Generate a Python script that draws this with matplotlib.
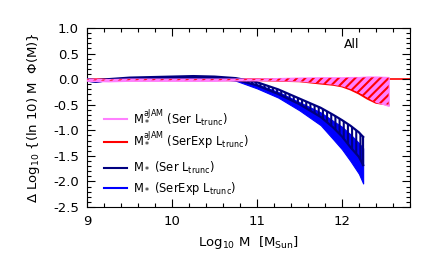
import numpy as np
import matplotlib
matplotlib.use("Agg")
import matplotlib.pyplot as plt
from matplotlib.lines import Line2D
from matplotlib.ticker import MultipleLocator, FormatStrFormatter

plt.rcParams['font.family'] = ['DejaVu Sans']
plt.rcParams['mathtext.fontset'] = 'dejavusans'
plt.rcParams['mathtext.default'] = 'regular'
plt.rcParams['hatch.linewidth'] = 1.5

# aJAM-based estimates (Ser and SerExp light profiles)
mass_aj = [9.0, 9.25, 9.5, 9.75, 10.0, 10.25, 10.5, 10.75, 11.0, 11.25, 11.5,
           11.75, 11.9, 12.0, 12.1, 12.2, 12.3, 12.4, 12.55]
ser_aj_hi = [0.01, 0.0, 0.01, 0.01, 0.01, 0.01, 0.01, 0.01, 0.01, 0.02, 0.03,
             0.035, 0.035, 0.035, 0.04, 0.04, 0.05, 0.05, 0.04]
ser_aj_lo = [-0.03, -0.04, -0.03, -0.03, -0.03, -0.03, -0.03, -0.02, -0.02, -0.02, -0.03,
             -0.06, -0.09, -0.12, -0.17, -0.24, -0.34, -0.44, -0.52]
serexp_aj_hi = [0.0, -0.01, 0.0, 0.0, 0.0, 0.0, 0.0, 0.0, 0.0, 0.01, 0.02,
                0.025, 0.025, 0.025, 0.03, 0.03, 0.035, 0.035, 0.03]
serexp_aj_lo = [-0.02, -0.03, -0.02, -0.02, -0.02, -0.02, -0.02, -0.02, -0.02, -0.03, -0.04,
                -0.085, -0.11, -0.14, -0.2, -0.28, -0.38, -0.46, -0.5]

# dynamical M* estimates
mass_st = [9.0, 9.1, 9.25, 9.5, 9.75, 10.0, 10.25, 10.5, 10.75, 11.0, 11.25,
           11.5, 11.75, 11.9, 12.0, 12.1, 12.2, 12.25]
ser_hi = [0.0, -0.02, 0.0, 0.03, 0.04, 0.05, 0.06, 0.05, 0.02, -0.06, -0.2,
          -0.38, -0.56, -0.70, -0.80, -0.91, -1.04, -1.13]
ser_lo = [-0.03, -0.05, -0.02, 0.0, 0.01, 0.02, 0.03, 0.02, -0.01, -0.12, -0.29,
          -0.49, -0.74, -0.95, -1.12, -1.33, -1.52, -1.68]
serexp_hi = [0.0, -0.02, 0.0, 0.02, 0.03, 0.04, 0.05, 0.04, 0.0, -0.10, -0.25,
             -0.45, -0.65, -0.82, -0.93, -1.08, -1.25, -1.35]
serexp_lo = [-0.03, -0.05, -0.02, -0.01, 0.0, 0.01, 0.02, 0.01, -0.03, -0.18, -0.36,
             -0.61, -0.90, -1.18, -1.37, -1.60, -1.85, -2.04]

pink = '#ff80ff'
red = '#ff0000'
navy = '#000080'
blue = '#0000ff'

fig = plt.figure(figsize=(4.36, 2.62), dpi=100)
ax = fig.add_axes([0.2, 0.21, 0.74, 0.683])

ax.axhline(0, color=red, lw=1.2, zorder=1)

# blue M* (SerExp) solid band
ax.fill_between(mass_st, serexp_lo, serexp_hi, color=blue, lw=0.8, zorder=2)
# navy M* (Ser) hatched band
ax.fill_between(mass_st, ser_lo, ser_hi, facecolor='none', edgecolor=navy,
                hatch='||||', lw=0, zorder=3)
ax.plot(mass_st, ser_hi, color=navy, lw=1.6, zorder=3)
ax.plot(mass_st, ser_lo, color=navy, lw=1.6, zorder=3)
ax.plot([mass_st[-1], mass_st[-1]], [ser_lo[-1], ser_hi[-1]], color=navy, lw=1.6, zorder=3)

# aJAM: pink band with red hatching
ax.plot(mass_aj, serexp_aj_lo, color=red, lw=1.5, zorder=4)
ax.fill_between(mass_aj, ser_aj_lo, ser_aj_hi, color=pink, lw=1.0, zorder=4)
ax.fill_between(mass_aj, serexp_aj_lo, serexp_aj_hi, facecolor='none', edgecolor=red,
                hatch='////', lw=0, zorder=5)

ax.set_xlim(9, 12.8)
ax.set_ylim(-2.5, 1.0)
ax.xaxis.set_major_locator(MultipleLocator(1))
ax.xaxis.set_minor_locator(MultipleLocator(0.2))
ax.yaxis.set_major_locator(MultipleLocator(0.5))
ax.yaxis.set_minor_locator(MultipleLocator(0.1))
ax.yaxis.set_major_formatter(FormatStrFormatter('%.1f'))
ax.tick_params(which='both', direction='in', top=True, right=True, labelsize=9.5, width=0.8)
ax.tick_params(which='major', length=6, pad=6)
ax.tick_params(which='minor', length=3)

ax.set_xlabel(r'Log$_{10}$ M  [M$_{Sun}$]', fontsize=9.5)
ax.set_ylabel(r'$\Delta$ Log$_{10}$ {(ln 10) M  $\Phi$(M)}', fontsize=9.5, labelpad=8)
ax.text(12.02, 0.6, 'All', fontsize=9)

h1 = [Line2D([], [], color=pink, lw=1.5), Line2D([], [], color=red, lw=1.5)]
l1 = [r'M$_*^{aJAM}$ (Ser L$_{trunc}$)', r'M$_*^{aJAM}$ (SerExp L$_{trunc}$)']
leg1 = ax.legend(h1, l1, loc='center left', bbox_to_anchor=(0.02, 0.43), frameon=False,
                 fontsize=8.3, handlelength=2.0, labelspacing=0.3, handletextpad=0.5)
ax.add_artist(leg1)
h2 = [Line2D([], [], color=navy, lw=1.5), Line2D([], [], color=blue, lw=1.5)]
l2 = [r'M$_*$ (Ser L$_{trunc}$)', r'M$_*$ (SerExp L$_{trunc}$)']
ax.legend(h2, l2, loc='center left', bbox_to_anchor=(0.02, 0.16), frameon=False,
          fontsize=8.3, handlelength=2.0, labelspacing=0.3, handletextpad=0.5)

fig.savefig('out.png', dpi=100)
